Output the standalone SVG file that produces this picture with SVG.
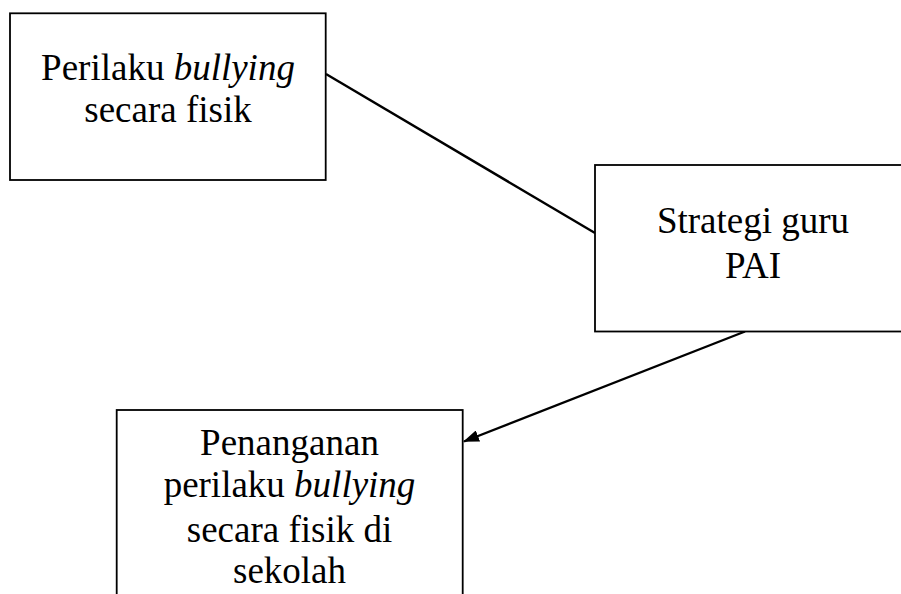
<svg xmlns="http://www.w3.org/2000/svg" width="901" height="594" viewBox="0 0 901 594">
<style>
.box{fill:#fff;stroke:#000;stroke-width:1.8}
.t{font-family:"Liberation Serif","Times New Roman",serif;font-size:37px;fill:#000;text-anchor:middle}
.i{font-style:italic}
.c{stroke:#000;stroke-width:2.4;fill:none}
</style>
<defs>
<marker id="ah" viewBox="0 0 16 12" refX="15" refY="6" markerWidth="16" markerHeight="12" markerUnits="userSpaceOnUse" orient="auto">
<path d="M0,0 L16,6 L0,12 Z" fill="#000"/>
</marker>
</defs>
<rect width="901" height="594" fill="#fff"/>
<g id="connectors">
<line class="c" x1="326" y1="74" x2="595" y2="233"/>
<line class="c" x1="745" y1="331.5" x2="464" y2="441.5" marker-end="url(#ah)"/>
</g>
<g id="node-perilaku">
<rect class="box" x="10" y="13.3" width="315.7" height="166.7"/>
<text class="t" x="168" y="80">Perilaku <tspan class="i">bullying</tspan></text>
<text class="t" x="168" y="121.7">secara fisik</text>
</g>
<g id="node-strategi">
<rect class="box" x="595" y="165" width="320" height="166.5"/>
<text class="t" x="753" y="233.3">Strategi guru</text>
<text class="t" x="753" y="278">PAI</text>
</g>
<g id="node-penanganan">
<rect class="box" x="116.7" y="410" width="346" height="200"/>
<text class="t" x="289.5" y="455">Penanganan</text>
<text class="t" x="289.5" y="496.7">perilaku <tspan class="i">bullying</tspan></text>
<text class="t" x="289.5" y="541.7">secara fisik di</text>
<text class="t" x="289.5" y="583.3">sekolah</text>
</g>
</svg>
